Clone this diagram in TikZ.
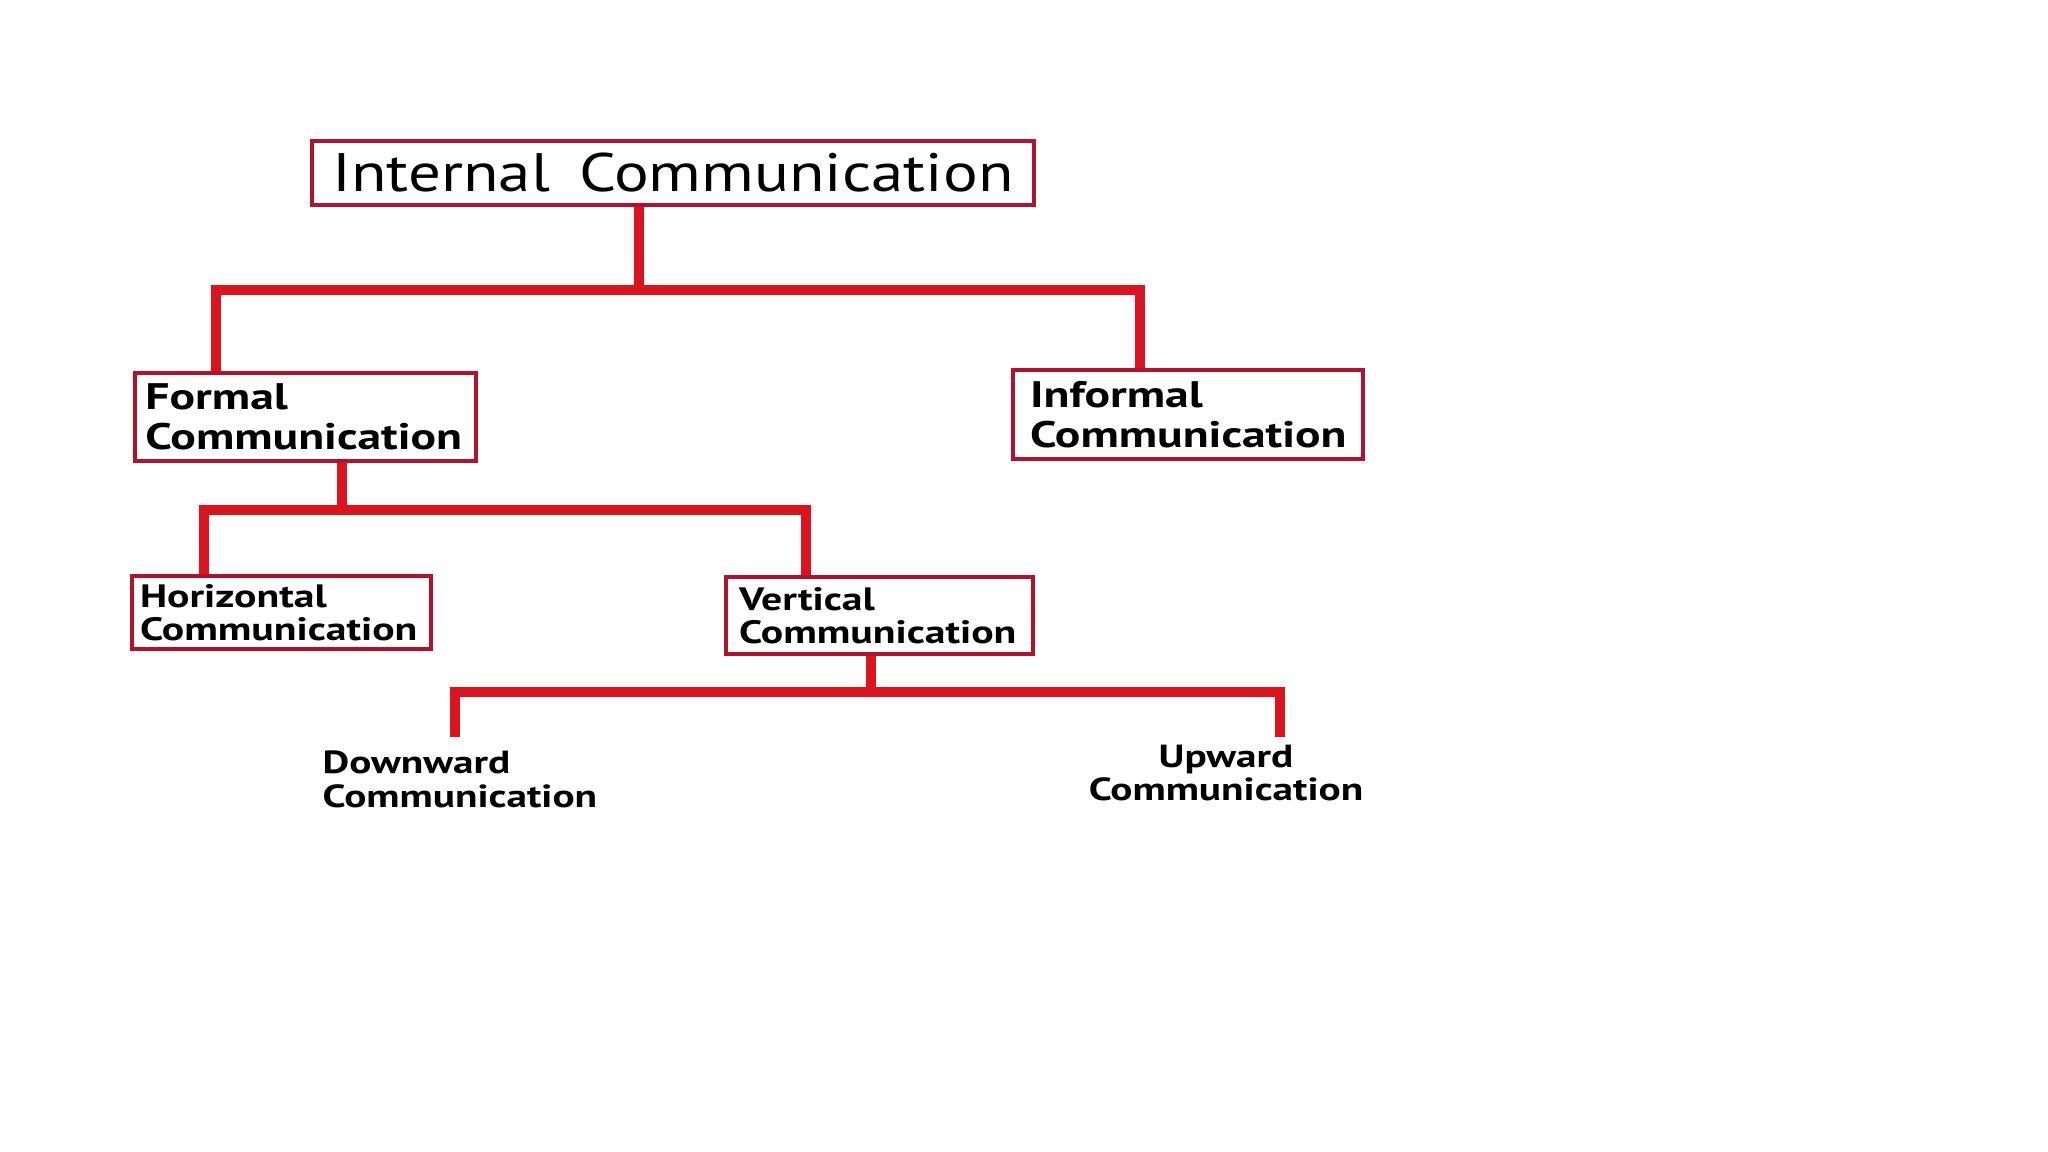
\documentclass[tikz,border=0pt]{standalone}
\usepackage{fontspec}
\setmainfont{PT Sans}
\newfontfamily\titlefont[FakeStretch=1.2]{PT Sans}
\newfontfamily\chartfont[FakeStretch=1.29]{PT Sans}
\definecolor{boxred}{HTML}{B3122E}
\definecolor{linkred}{HTML}{DC1420}
\tikzset{
  titlebox/.style={draw=boxred,line width=1.4pt,fill=white,align=center,inner sep=0pt,font=\titlefont\fontsize{15.4}{17}\selectfont},
  bigbox/.style={draw=boxred,line width=1.4pt,fill=white,align=left,inner xsep=.1cm,inner ysep=0pt,font=\chartfont\bfseries\fontsize{10.5}{11.4}\selectfont},
  smallbox/.style={draw=boxred,line width=1.4pt,fill=white,align=left,inner xsep=.08cm,inner ysep=0pt,font=\chartfont\bfseries\fontsize{9.2}{9.4}\selectfont},
  leaf/.style={inner sep=0pt,font=\chartfont\bfseries\fontsize{9.1}{9.6}\selectfont},
  link/.style={draw=linkred,line width=.1cm},
}

\begin{document}
\begin{tikzpicture}
			\fill[white] (0,0) rectangle (20.48,-11.52);
			\useasboundingbox (0,0) rectangle (20.48,-11.52);
			
			\node[titlebox,minimum width=7.22cm,minimum height=.64cm] (internal) at (6.73,-1.73)
			{Internal\hspace{.12cm} Communication};
			
			\node[bigbox,minimum width=3.41cm,minimum height=.88cm,text width=3.2cm] (formal) at (3.055,-4.17)
			{Formal\\Communication};
			
			\node[bigbox,minimum width=3.50cm,minimum height=.89cm,text width=3.16cm] (informal) at (11.88,-4.145)
			{Informal\\Communication};
			
			\node[smallbox,minimum width=2.99cm,minimum height=.73cm,text width=2.83cm] (horizontal) at (2.815,-6.125)
			{Horizontal\\Communication};
			
			\node[smallbox,minimum width=3.07cm,minimum height=.77cm,text width=2.81cm] (vertical) at (8.795,-6.155)
			{Vertical\\Communication};
			
			\node[leaf,anchor=north west,align=left] (downward) at (3.22,-7.50)
			{Downward\\Communication};
			
			\node[leaf,anchor=north,align=center] (upward) at (12.26,-7.44)
			{Upward\\Communication};
			
			% junctions of the tree
			\coordinate (s1) at (6.39,-2.90);
			\coordinate (b1l) at (2.16,-2.90);
			\coordinate (b1r) at (11.40,-2.90);
			\coordinate (s2) at (3.42,-5.10);
			\coordinate (b2l) at (2.04,-5.10);
			\coordinate (b2r) at (8.06,-5.10);
			\coordinate (s3) at (8.71,-6.92);
			\coordinate (b3l) at (4.55,-6.92);
			\coordinate (b3r) at (12.80,-6.92);
			\coordinate (dend) at (4.55,-7.37);
			\coordinate (uend) at (12.80,-7.37);
			
			\draw[link] (internal.south -| s1)--(s1);
			\draw[link] (formal.north -| b1l)--(b1l)--(b1r)--(informal.north -| b1r);
			\draw[link] (formal.south -| s2)--(s2);
			\draw[link] (horizontal.north -| b2l)--(b2l)--(b2r)--(vertical.north -| b2r);
			\draw[link] (vertical.south -| s3)--(s3);
			\draw[link] (dend)--(b3l)--(b3r)--(uend);
		\end{tikzpicture}
\end{document}
